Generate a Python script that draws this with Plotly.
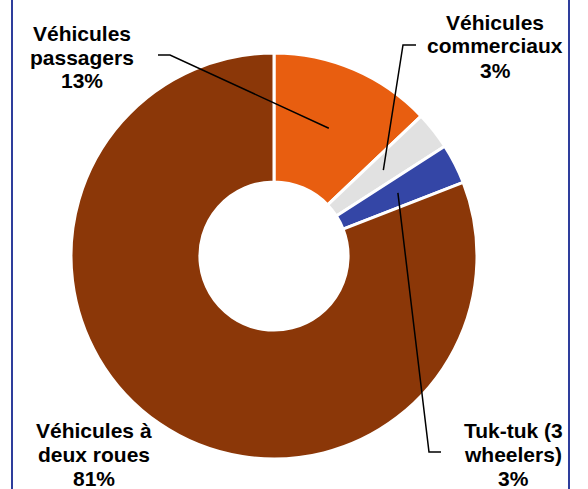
import math
import plotly.graph_objects as go

labels = ["Véhicules<br>passagers", "Véhicules<br>commerciaux", "Tuk-tuk (3<br>wheelers)", "Véhicules à<br>deux roues"]
values = [12.9, 3.0, 3.2, 80.9]
colors = ["#E85E10", "#E1E1E1", "#3446A6", "#8B3708"]

W, H = 588, 489
cx, cy, R = 274, 256, 203
hole = 0.365

fig = go.Figure(go.Pie(
    labels=labels, values=values, sort=False, direction="clockwise", rotation=0,
    hole=hole, marker=dict(colors=colors, line=dict(color="white", width=3)),
    textinfo="none", hoverinfo="label+percent", showlegend=False,
    domain=dict(x=[(cx - R) / W, (cx + R) / W], y=[(H - cy - R) / H, (H - cy + R) / H]),
))

total = sum(values)
pct = [round(v / total * 100) for v in values]

def anchor(i, rfrac):
    start = sum(values[:i]) / total * 360
    mid = start + values[i] / total * 360 / 2
    a = math.radians(mid)
    r = R * rfrac
    return cx + r * math.sin(a), cy - r * math.cos(a)

# label positions: center x and first-line y (px from top), line step
label_pos = [(82, 33), (495, 22), (513, 430), (94, 430)]
line_step = 24
elbows = [[(158, 55), (170, 55)], [(416, 45), (403, 45)], [(441, 452), (429, 452)], None]
anchor_r = [0.685, 0.685, 0.685, None]

def px(x, y):
    return x / W, 1 - y / H

shapes = []
for i in range(4):
    if elbows[i] is None:
        continue
    ax_, ay_ = anchor(i, anchor_r[i])
    pts = elbows[i] + [(ax_, ay_)]
    path = "M " + " L ".join(f"{px(x, y)[0]},{px(x, y)[1]}" for x, y in pts)
    shapes.append(dict(type="path", xref="paper", yref="paper", path=path,
                       line=dict(color="black", width=1.5)))

for xx in (12, 569):
    shapes.append(dict(type="line", xref="paper", yref="paper", x0=xx / W, x1=xx / W, y0=0, y1=1,
                       line=dict(color="#2E3D9C", width=2)))

annotations = []
for i in range(4):
    x, y = label_pos[i]
    lines = labels[i].split("<br>") + [f"{pct[i]}%"]
    for k, t in enumerate(lines):
        annotations.append(dict(
            text=f"<b>{t}</b>", x=x / W, y=1 - (y + k * line_step) / H, xref="paper", yref="paper",
            showarrow=False, xanchor="center", yanchor="middle", align="center",
            font=dict(family="Liberation Sans, Arial, sans-serif", size=21, color="black"),
        ))

fig.update_layout(width=W, height=H, margin=dict(l=0, r=0, t=0, b=0),
                  paper_bgcolor="white", plot_bgcolor="white",
                  shapes=shapes, annotations=annotations)
fig.write_html("out.html")
